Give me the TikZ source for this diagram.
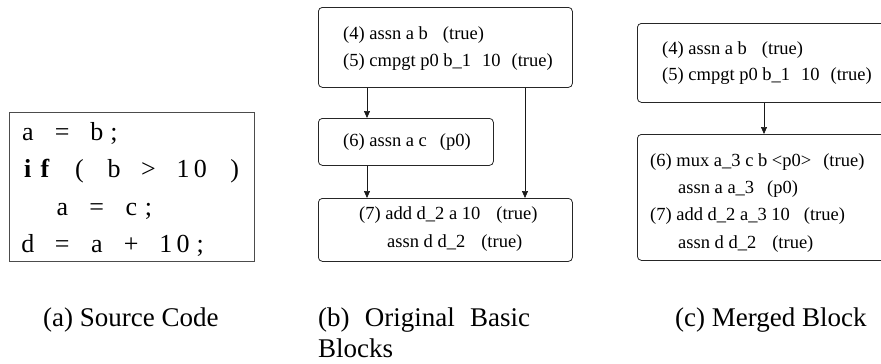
\documentclass[tikz,border=0pt]{standalone}
\usepackage{fontspec}
\setmainfont{Liberation Serif}
\usetikzlibrary{arrows.meta}

\newcommand\irfont{\fontsize{18.5}{22}\selectfont}
\newcommand\codefont{\fontsize{26}{30}\selectfont}
\newcommand\capfont{\fontsize{27}{34}\selectfont}
% one fixed-width column of the source listing
\newcommand\cc[1]{\makebox[17.25pt]{#1}}

\tikzset{
  blk/.style={draw=black!85, line width=0.8pt, rounded corners=4pt, anchor=north west},
  srcbox/.style={draw=black!70, line width=1pt, anchor=north west},
  ir/.style={anchor=west, inner sep=0pt, font=\irfont},
  codeline/.style={anchor=base west, inner sep=0pt, font=\codefont},
  subcap/.style={anchor=base west, inner sep=0pt, font=\capfont},
  flow/.style={draw=black!90, line width=0.7pt, -{Triangle[length=7pt,width=6pt]}}
}

\begin{document}
\begin{tikzpicture}[x=1pt, y=-1pt]
\useasboundingbox (0,0) rectangle (881,364);
\clip (0,0) rectangle (881,364);

% (a) source code
\node[srcbox, minimum width=245, minimum height=149] (src) at (9,112) {};
\node[codeline] (s1) at (19,140) {\cc{a}\cc{}\cc{=}\cc{}\cc{b}\cc{;}};
\node[codeline] (s2) at (19,177) {\cc{\bfseries i}\cc{\bfseries f}\cc{}\cc{(}\cc{}\cc{b}\cc{}\cc{>}\cc{}\cc{1}\cc{0}\cc{}\cc{)}};
\node[codeline] (s3) at (19,215) {\cc{}\cc{}\cc{a}\cc{}\cc{=}\cc{}\cc{c}\cc{;}};
\node[codeline] (s4) at (19,252) {\cc{d}\cc{}\cc{=}\cc{}\cc{a}\cc{}\cc{+}\cc{}\cc{1}\cc{0}\cc{;}};

% (b) original basic blocks
\node[blk, minimum width=254, minimum height=80] (b1) at (318,7) {};
\node[ir] (b1t1) at (343,35) {(4) assn a b\hspace{15pt}(true)};
\node[ir] (b1t2) at (343,62) {(5) cmpgt p0 b\_1\hspace{11pt}10\hspace{11pt}(true)};

\node[blk, minimum width=175, minimum height=47] (b6) at (318,118) {};
\node[ir] (b6t) at (343,142) {(6) assn a c\hspace{13pt}(p0)};

\node[blk, minimum width=254, minimum height=63] (b7) at (318,198) {};
\node[ir] (b7t1) at (359,215) {(7) add d\_2 a 10\hspace{16pt}(true)};
\node[ir] (b7t2) at (387,243) {assn d d\_2\hspace{16pt}(true)};

\coordinate (xa) at (367,0);
\coordinate (xb) at (525,0);
\draw[flow] (b1.south -| xa) -- (b6.north -| xa);
\draw[flow] (b6.south -| xa) -- (b7.north -| xa);
\draw[flow] (b1.south -| xb) -- (b7.north -| xb);

% (c) merged block
\node[blk, minimum width=300, minimum height=79] (c1) at (637,23) {};
\node[ir] (c1t1) at (662,50) {(4) assn a b\hspace{15pt}(true)};
\node[ir] (c1t2) at (662,76) {(5) cmpgt p0 b\_1\hspace{11pt}10\hspace{11pt}(true)};

\node[blk, minimum width=300, minimum height=126] (c2) at (637,134) {};
\node[ir] (c2t1) at (650,162) {(6) mux a\_3 c b <p0>\hspace{12pt}(true)};
\node[ir] (c2t2) at (678,189) {assn a a\_3\hspace{13pt}(p0)};
\node[ir] (c2t3) at (650,216) {(7) add d\_2 a\_3 10\hspace{14pt}(true)};
\node[ir] (c2t4) at (678,244) {assn d d\_2\hspace{16pt}(true)};

\coordinate (xc) at (764,0);
\draw[flow] (c1.south -| xc) -- (c2.north -| xc);

% sub-captions
\node[subcap] (capa) at (43,326) {(a) Source Code};
\node[subcap] (capb1) at (318,326) {\makebox[212pt][s]{(b) Original Basic}};
\node[subcap] (capb2) at (318,357) {Blocks};
\node[subcap] (capc) at (675,326) {(c) Merged Block};
\end{tikzpicture}
\end{document}
